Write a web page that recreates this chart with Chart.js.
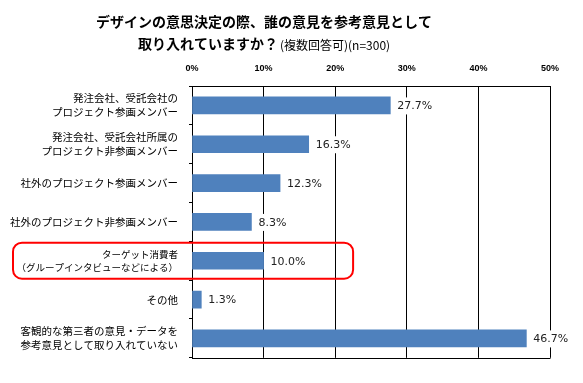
<!DOCTYPE html>
<html>
<head>
<meta charset="utf-8">
<script src="https://cdn.jsdelivr.net/npm/chart.js@4"></script>
<style>
html,body{margin:0;padding:0;background:#fff;}
canvas{display:block;}
</style>
</head>
<body>
<canvas id="c" width="583" height="383"></canvas>
<script>
const categories = [
  ['発注会社、受託会社の','プロジェクト参画メンバー'],
  ['発注会社、受託会社所属の','プロジェクト非参画メンバー'],
  '社外のプロジェクト参画メンバー',
  '社外のプロジェクト非参画メンバー',
  ['ターゲット消費者','（グループインタビューなどによる）'],
  'その他',
  ['客観的な第三者の意見・データを','参考意見として取り入れていない']
];
const values = [27.7, 16.3, 12.3, 8.3, 10.0, 1.3, 46.7];
const titleLine1 = 'デザインの意思決定の際、誰の意見を参考意見として';
const titleLine2Bold = '取り入れていますか？';
const titleLine2Small = '(複数回答可)(n=300)';
const highlightIndex = 4;

const JP = '"Noto Sans CJK JP", "Noto Sans", sans-serif';

const extras = {
  id: 'extras',
  afterDatasetsDraw(chart) {
    const ctx = chart.ctx;
    const meta = chart.getDatasetMeta(0);
    const ds = chart.data.datasets[0];
    const ca = chart.chartArea;
    ctx.save();
    // bottom border
    ctx.strokeStyle = '#000';
    ctx.lineWidth = 1;
    ctx.beginPath();
    ctx.moveTo(ca.left, Math.round(ca.bottom) + 0.5);
    ctx.lineTo(ca.right + 0.5, Math.round(ca.bottom) + 0.5);
    ctx.stroke();
    // data labels with white background
    ctx.font = '11px "DejaVu Sans", sans-serif';
    ctx.textAlign = 'left';
    ctx.textBaseline = 'middle';
    meta.data.forEach((bar, i) => {
      const t = ds.data[i].toFixed(1) + '%';
      const w = ctx.measureText(t).width;
      const tx = bar.x + 7;
      ctx.fillStyle = '#fff';
      ctx.fillRect(tx - 3, bar.y - 8, w + 6, 17);
      ctx.fillStyle = '#222';
      ctx.fillText(t, tx, bar.y + 1);
    });
    // highlight box
    const y = chart.scales.y;
    const x = chart.scales.x;
    const band = (ca.bottom - ca.top) / chart.data.labels.length;
    const cy = y.getPixelForValue(highlightIndex);
    const top = cy - band * 0.465, bot = cy + band * 0.465;
    const left = 13, right = x.getPixelForValue(22.5);
    ctx.strokeStyle = '#ff0000';
    ctx.lineWidth = 2;
    ctx.beginPath();
    ctx.roundRect(left, top, right - left, bot - top, 9);
    ctx.stroke();
    // title
    ctx.fillStyle = '#000';
    ctx.textBaseline = 'middle';
    ctx.textAlign = 'center';
    ctx.font = 'bold 14px ' + JP;
    ctx.fillText(titleLine1, 264, 22);
    const w1 = ctx.measureText(titleLine2Bold).width;
    ctx.font = '12px ' + JP;
    const w2 = ctx.measureText(titleLine2Small).width;
    const startX = 264 - (w1 + 2 + w2) / 2;
    ctx.textAlign = 'left';
    ctx.font = 'bold 14px ' + JP;
    ctx.fillText(titleLine2Bold, startX, 44);
    ctx.font = '12px ' + JP;
    ctx.fillText(titleLine2Small, startX + w1 + 2, 45);
    ctx.restore();
  }
};

new Chart(document.getElementById('c'), {
  type: 'bar',
  data: {
    labels: categories,
    datasets: [{
      data: values,
      backgroundColor: '#4F81BD',
      borderWidth: 0,
      barThickness: 17
    }]
  },
  options: {
    indexAxis: 'y',
    responsive: false,
    animation: false,
    layout: { padding: { top: 0, left: 0, right: 33, bottom: 11 } },
    plugins: { legend: { display: false }, tooltip: { enabled: false }, title: { display: false } },
    scales: {
      x: {
        position: 'top',
        min: 0, max: 50,
        afterFit(s) { s.height = 86; },
        ticks: {
          stepSize: 10,
          callback: v => v + '%',
          font: { family: '"Liberation Sans", sans-serif', size: 9, weight: 'bold' },
          color: '#000',
          padding: 12,
          maxRotation: 0
        },
        grid: { color: '#000', lineWidth: 1, drawTicks: false },
        border: { display: true, color: '#000', width: 1 }
      },
      y: {
        afterFit(s) { s.width = 192; },
        ticks: {
          font: ctx => ({ family: JP, size: ctx.index === 4 ? 9.5 : 10.5, lineHeight: 1.35 }),
          color: '#000',
          padding: 11,
          autoSkip: false
        },
        grid: { offset: true, drawOnChartArea: false, drawTicks: true, tickLength: 3, color: '#000' },
        border: { display: true, color: '#000', width: 1 }
      }
    }
  },
  plugins: [extras]
});
</script>
</body>
</html>
